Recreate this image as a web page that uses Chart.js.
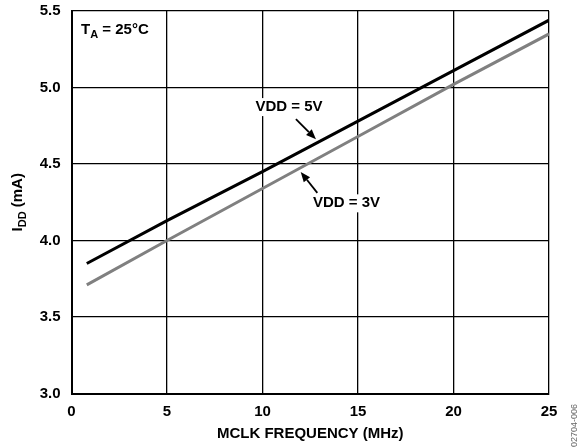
<!DOCTYPE html>
<html lang="en">
<head>
    <meta charset="UTF-8">
    <title>IDD vs MCLK Frequency</title>
    <script src="https://cdn.jsdelivr.net/npm/chart.js"></script>
    <style>
        html, body {
            margin: 0;
            padding: 0;
            background: #ffffff;
        }

        #wrap {
            position: relative;
            width: 579px;
            height: 447px;
        }
    </style>
</head>
<body>
    <div id="wrap">
        <canvas id="iddChart"></canvas>
    </div>

    <script>
        // values
        const mclkMHz = [0.8, 5, 10, 15, 20, 25];
        const idd5V = [3.85, 4.13, 4.45, 4.78, 5.11, 5.44];
        const idd3V = [3.71, 4.00, 4.34, 4.68, 5.02, 5.35];
        const xTicks = [0, 5, 10, 15, 20, 25];
        const yTicks = [3.0, 3.5, 4.0, 4.5, 5.0, 5.5];

        const FONT = "'Liberation Sans', Arial, sans-serif";

        function toPoints(xs, ys) {
            return xs.map((x, i) => ({ x: x, y: ys[i] }));
        }

        function arrow(ctx, x1, y1, x2, y2) {
            const ang = Math.atan2(y2 - y1, x2 - x1);
            const head = 10;
            const bx = x2 - head * Math.cos(ang);
            const by = y2 - head * Math.sin(ang);
            ctx.beginPath();
            ctx.moveTo(x1, y1);
            ctx.lineTo(bx, by);
            ctx.lineWidth = 1.8;
            ctx.strokeStyle = '#000';
            ctx.stroke();
            ctx.beginPath();
            ctx.moveTo(x2, y2);
            ctx.lineTo(bx + 4 * Math.sin(ang), by - 4 * Math.cos(ang));
            ctx.lineTo(bx - 4 * Math.sin(ang), by + 4 * Math.cos(ang));
            ctx.closePath();
            ctx.fillStyle = '#000';
            ctx.fill();
        }

        // text on a white patch so grid lines stop at it
        function boxedLabel(ctx, text, cx, cy) {
            const w = ctx.measureText(text).width;
            ctx.fillStyle = '#fff';
            ctx.fillRect(cx - w / 2 - 2, cy - 9, w + 4, 18);
            ctx.fillStyle = '#000';
            ctx.fillText(text, cx, cy);
        }

        // labels, arrows, subscripted titles
        const extras = {
            id: 'extras',
            afterDraw(chart) {
                const ctx = chart.ctx;
                const xs = chart.scales.x;
                const ys = chart.scales.y;
                const px = v => xs.getPixelForValue(v);
                const py = v => ys.getPixelForValue(v);

                ctx.save();
                ctx.textBaseline = 'middle';
                ctx.textAlign = 'center';
                ctx.font = 'bold 15px ' + FONT;
                boxedLabel(ctx, 'VDD = 5V', px(11.39), py(4.872));
                boxedLabel(ctx, 'VDD = 3V', px(14.4), py(4.243));
                arrow(ctx, px(11.75), py(4.793), px(12.8), py(4.662));
                arrow(ctx, px(12.87), py(4.311), px(12.0), py(4.448));

                // T_A = 25°C
                ctx.fillStyle = '#000';
                ctx.textAlign = 'left';
                ctx.textBaseline = 'alphabetic';
                let tx = 81;
                ctx.font = 'bold 15px ' + FONT;
                ctx.fillText('T', tx, 34);
                tx += ctx.measureText('T').width;
                ctx.font = 'bold 11px ' + FONT;
                ctx.fillText('A', tx, 38);
                tx += ctx.measureText('A').width;
                ctx.font = 'bold 15px ' + FONT;
                ctx.fillText(' = 25°C', tx, 34);

                // y title I_DD (mA)
                ctx.translate(22, (chart.chartArea.top + chart.chartArea.bottom) / 2);
                ctx.rotate(-Math.PI / 2);
                ctx.font = 'bold 15px ' + FONT;
                const wI = ctx.measureText('I').width;
                const wRest = ctx.measureText(' (mA)').width;
                ctx.font = 'bold 11px ' + FONT;
                const wDD = ctx.measureText('DD').width;
                let yx = -(wI + wDD + wRest) / 2;
                ctx.font = 'bold 15px ' + FONT;
                ctx.fillText('I', yx, 0);
                yx += wI;
                ctx.font = 'bold 11px ' + FONT;
                ctx.fillText('DD', yx, 4);
                yx += wDD;
                ctx.font = 'bold 15px ' + FONT;
                ctx.fillText(' (mA)', yx, 0);
                ctx.restore();

                // figure code at right edge
                ctx.save();
                ctx.translate(575, 447);
                ctx.rotate(-Math.PI / 2);
                ctx.font = '9px ' + FONT;
                ctx.fillStyle = '#666';
                ctx.textAlign = 'left';
                ctx.textBaseline = 'middle';
                ctx.fillText('02704-006', 0, 0);
                ctx.restore();
            }
        };

        new Chart(document.getElementById('iddChart'), {
            type: 'scatter',
            data: {
                datasets: [{
                    label: 'VDD = 5V',
                    data: toPoints(mclkMHz, idd5V),
                    borderColor: '#000000',
                    borderWidth: 3,
                    showLine: true,
                    pointRadius: 0,
                    tension: 0
                }, {
                    label: 'VDD = 3V',
                    data: toPoints(mclkMHz, idd3V),
                    borderColor: '#808080',
                    borderWidth: 3,
                    showLine: true,
                    pointRadius: 0,
                    tension: 0
                }]
            },
            options: {
                responsive: true,
                maintainAspectRatio: false,
                animation: false,
                layout: { padding: { top: 11, right: 30, bottom: 0, left: 0 } },
                plugins: {
                    legend: { display: false },
                    tooltip: { enabled: false }
                },
                scales: {
                    x: {
                        type: 'linear',
                        min: 0,
                        max: 25,
                        afterBuildTicks: s => { s.ticks = xTicks.map(v => ({ value: v })); },
                        afterFit: s => { s.height = 53.5; },
                        grid: { color: '#000', lineWidth: 1.3, drawTicks: false },
                        border: { color: '#000', width: 2 },
                        ticks: {
                            color: '#000',
                            padding: 9,
                            maxRotation: 0,
                            font: { family: FONT, size: 15, weight: 'bold' }
                        },
                        title: {
                            display: true,
                            text: 'MCLK FREQUENCY (MHz)',
                            color: '#000',
                            padding: { top: 0, bottom: 4 },
                            font: { family: FONT, size: 15, weight: 'bold' }
                        }
                    },
                    y: {
                        type: 'linear',
                        min: 3.0,
                        max: 5.5,
                        afterBuildTicks: s => { s.ticks = yTicks.map(v => ({ value: v })); },
                        afterFit: s => {
                            s.width = 71.5;
                            s.paddingTop = 0;
                            s.paddingBottom = 0;
                        },
                        grid: { color: '#000', lineWidth: 1.3, drawTicks: false },
                        border: { color: '#000', width: 2 },
                        ticks: {
                            color: '#000',
                            padding: 11,
                            callback: v => v.toFixed(1),
                            font: { family: FONT, size: 15, weight: 'bold' }
                        }
                    }
                }
            },
            plugins: [extras]
        });
    </script>
</body>
</html>
